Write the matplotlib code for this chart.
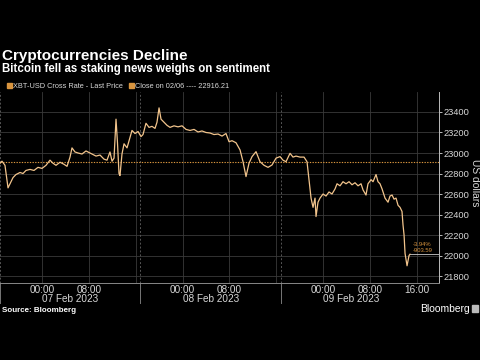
import matplotlib
matplotlib.use("Agg")
import matplotlib.pyplot as plt
from matplotlib.patches import Rectangle

# ---------------------------------------------------------------------------
# Data: XBT-USD last price, hours relative to 07 Feb 2023 00:00
# ---------------------------------------------------------------------------
hours = [
    -7.20, -6.86, -6.35, -5.83, -5.49, -4.98, -4.47, -3.78, -3.27, -2.76,
    -2.07, -1.39, -0.71, -0.02, 0.66, 1.34, 1.86, 2.37, 3.05, 3.73,
    4.25, 4.76, 5.10, 5.61, 6.13, 6.81, 7.49, 7.84, 8.52, 9.20,
    9.89, 10.57, 11.08, 11.59, 11.94, 12.28, 12.62, 12.87, 13.13, 13.30,
    13.64, 13.99, 14.50, 15.01, 15.35, 15.87, 16.38, 16.89, 17.23, 17.74,
    18.26, 18.77, 19.28, 19.62, 19.97, 20.31, 20.82, 21.33, 21.85, 22.53,
    23.21, 23.90, 24.58, 25.26, 25.95, 26.63, 27.31, 28.00, 28.68, 29.36,
    30.05, 30.73, 31.41, 31.93, 32.44, 33.12, 33.81, 34.32, 34.83, 35.34,
    35.86, 36.54, 37.22, 37.91, 38.59, 39.27, 39.96, 40.64, 41.15, 41.66,
    42.35, 42.86, 43.37, 44.06, 44.74, 45.25, 45.59, 45.94, 46.28, 46.62,
    46.79, 47.13, 47.47, 47.99, 48.50, 49.01, 49.52, 50.04, 50.38, 50.89,
    51.40, 51.92, 52.43, 52.94, 53.45, 53.97, 54.48, 54.82, 55.33, 55.67,
    56.19, 56.53, 57.04, 57.38, 57.72, 58.07, 58.58, 59.09, 59.43, 59.78,
    60.12, 60.46, 60.80, 61.14, 61.48, 61.65, 61.83, 62.00, 62.17, 62.34,
    62.51, 62.68, 62.85,
]
prices = [
    22900, 22920, 22880, 22660, 22700, 22760, 22790, 22810, 22800, 22830,
    22840, 22830, 22860, 22850, 22880, 22930, 22900, 22880, 22910, 22890,
    22870, 22960, 23050, 23010, 23000, 22990, 23020, 23010, 22990, 22970,
    22980, 22940, 22930, 23010, 22920, 22950, 23330, 23100, 22800, 22780,
    22990, 23090, 23050, 23150, 23220, 23190, 23210, 23160, 23180, 23290,
    23250, 23260, 23240, 23300, 23440, 23330, 23300, 23270, 23250, 23265,
    23255, 23265, 23230, 23220, 23230, 23205, 23215, 23200, 23195, 23180,
    23185, 23165, 23190, 23110, 23120, 23100, 23030, 22915, 22770, 22900,
    22965, 23013, 22915, 22880, 22860, 22883, 22950, 22965, 22930, 22915,
    22997, 22960, 22970, 22960, 22960, 22915, 22737, 22560, 22470, 22560,
    22380, 22520, 22560, 22600, 22580, 22620, 22600, 22650, 22700, 22680,
    22720, 22700, 22720, 22690, 22710, 22680, 22700, 22640, 22590, 22700,
    22740, 22720, 22790, 22720, 22700, 22650, 22560, 22520, 22580, 22590,
    22550, 22560, 22490, 22470, 22430, 22300, 22200, 22020, 21960, 21900,
    21950, 22000, 22012.62,
]
prev_close = 22916.21
yticks = [21800, 22000, 22200, 22400, 22600, 22800, 23000, 23200, 23400]
time_ticks = [0, 8, 24, 32, 48, 56, 64]
time_labels = ["00:00", "08:00", "00:00", "08:00", "00:00", "08:00", "16:00"]
day_labels = ["07 Feb 2023", "08 Feb 2023", "09 Feb 2023"]

# ---------------------------------------------------------------------------
BG = "black"
LINE = "#f2c48c"
ORANGE = "#d9953f"
GRID = "#3a3a3a"
TXT = "#d8d8d8"
FONT = ["Liberation Sans", "DejaVu Sans"]
plt.rcParams["font.family"] = FONT

x0, x1 = -7.2, 67.8
fig = plt.figure(figsize=(4.8, 3.6), dpi=100, facecolor=BG)
ax = fig.add_axes([0.0, 1 - 283 / 360, 439 / 480, (283 - 92) / 360], facecolor=BG)

# grid
for yv in yticks:
    ax.axhline(yv, color=GRID, lw=0.6, zorder=0)
for d in range(3):
    for hh in (0, 8, 16):
        ax.axvline(d * 24 + hh, color=GRID, lw=0.6, zorder=0)
seps = [x0 + 24 * k for k in range(3)]
for s in seps:
    ax.axvline(s, color="#555555", lw=0.7, ls=(0, (2, 2)), zorder=0)
    ax.plot([s, s], [0, -0.105], color="#777777", lw=0.7,
            transform=ax.get_xaxis_transform(), clip_on=False)

# previous close and price
ax.axhline(prev_close, color=ORANGE, lw=0.8, ls=(0, (1.2, 1.2)), zorder=1)
ax.plot(hours, prices, color=LINE, lw=0.9, zorder=3)
ax.plot([hours[-1], x1], [prices[-1], prices[-1]], color="#cccccc", lw=0.6, zorder=2)
chg = prices[-1] - prev_close
ax.text(hours[-1] + 0.4, prices[-1] + 95, f"{chg / prev_close * 100:.2f}%",
        color=ORANGE, fontsize=4.2, va="center")
ax.text(hours[-1] + 0.4, prices[-1] + 35, f"{chg:.2f}",
        color=ORANGE, fontsize=4.2, va="center")

ax.set_xlim(x0, x1)
ax.set_ylim(21732, 23595)

for side in ("top", "left"):
    ax.spines[side].set_visible(False)
ax.spines["right"].set_color("#bbbbbb")
ax.spines["right"].set_linewidth(0.7)
ax.spines["bottom"].set_color("#888888")
ax.spines["bottom"].set_linewidth(0.7)

ax.yaxis.tick_right()
ax.set_yticks(yticks)
ax.set_yticklabels([str(v) for v in yticks])
ax.tick_params(axis="y", colors="#bbbbbb", labelcolor=TXT, labelsize=6.7,
               length=2.5, width=0.7, pad=1)
ax.set_xticks(time_ticks)
ax.set_xticklabels(time_labels)
ax.tick_params(axis="x", length=0, labelcolor=TXT, labelsize=7.2, pad=1.5)

fig.text(475 / 480, 1 - 183 / 360, "US dollars", color=TXT, fontsize=7.4,
         rotation=270, ha="center", va="center")

for k, lab in enumerate(day_labels):
    ax.text(x0 + 12 + 24 * k, -0.085, lab, transform=ax.get_xaxis_transform(),
            ha="center", va="center", color=TXT, fontsize=7.2)

# titles and legend
fig.text(0.004, 1 - 60 / 360, "Cryptocurrencies Decline", color="white",
         fontsize=11, fontweight="bold", va="baseline")
fig.text(0.004, 1 - 72 / 360, "Bitcoin fell as staking news weighs on sentiment",
         color="white", fontsize=8.3, fontweight="bold", va="baseline")

for xs, lab in ((7 / 480, "XBT-USD Cross Rate - Last Price"),
                (129 / 480, f"Close on 02/06 ---- {prev_close:.2f}")):
    fig.patches.append(Rectangle((xs, 1 - 88 / 360), 5 / 480, 5 / 360,
                                 transform=fig.transFigure, color=ORANGE))
    fig.text(xs + 6 / 480, 1 - 88 / 360, lab, color=TXT, fontsize=5.3,
             va="baseline")

fig.text(0.004, 1 - 312 / 360, "Source: Bloomberg", color="white",
         fontsize=5.8, fontweight="bold", va="baseline")
fig.text(470 / 480, 1 - 312 / 360, "Bloomberg", color="white", fontsize=7.4,
         ha="right", va="baseline")
fig.patches.append(Rectangle((472 / 480, 1 - 312 / 360), 6 / 480, 7 / 360,
                             transform=fig.transFigure, color="#bbbbbb"))

fig.savefig("out.png", dpi=100, facecolor=BG)
